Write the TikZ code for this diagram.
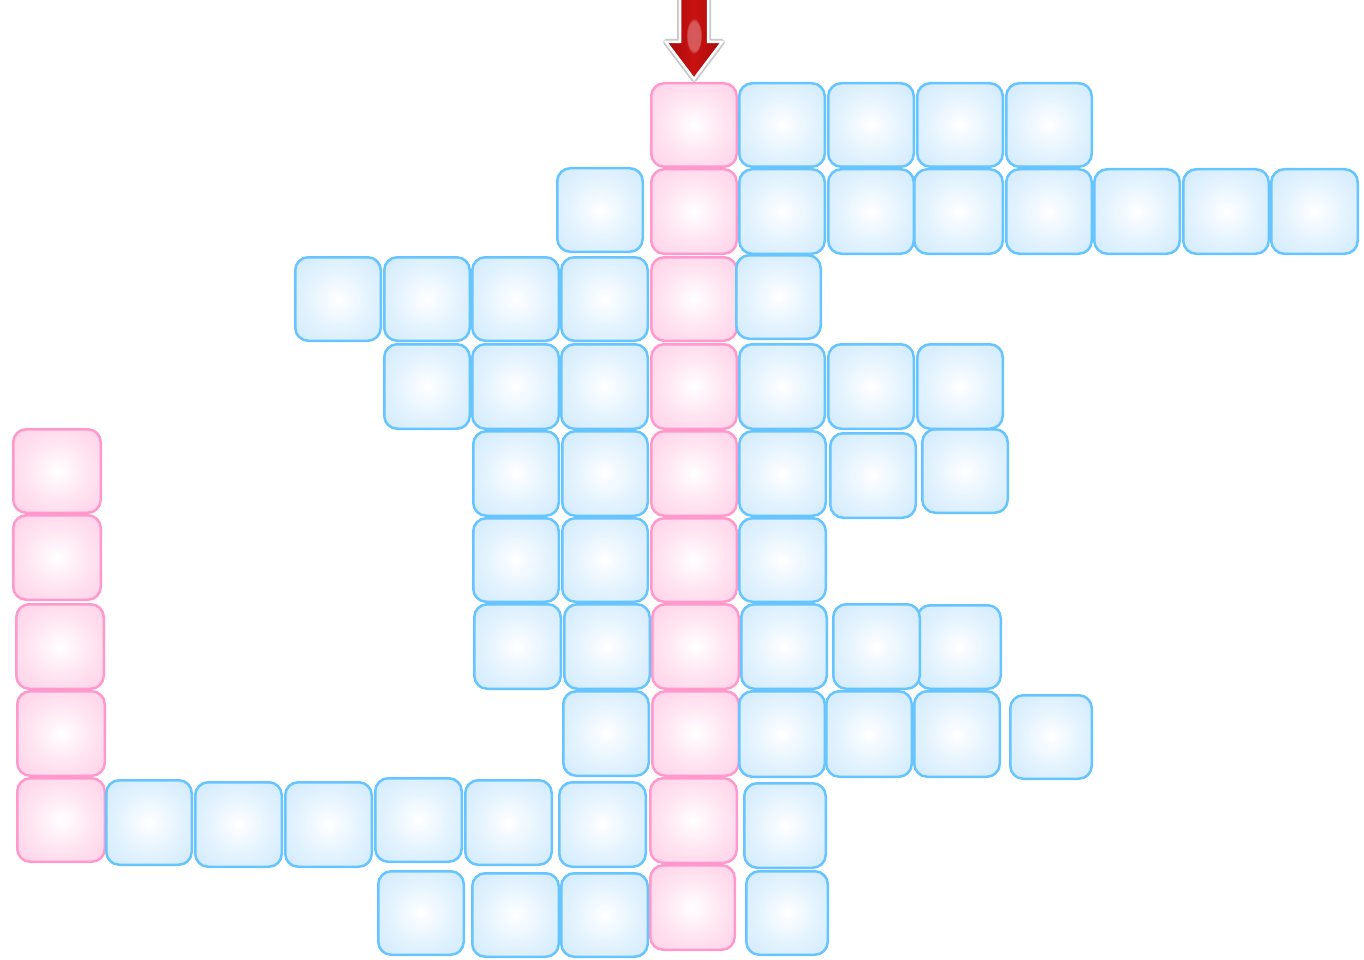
\documentclass[tikz,border=0pt]{standalone}
\usetikzlibrary{shadings,fadings}
\definecolor{bluemid}{HTML}{E4F3FE}
\definecolor{bluefill}{HTML}{D0EAFC}
\definecolor{blueedge}{HTML}{CAE7FB}
\definecolor{blueline}{HTML}{66C4FF}
\definecolor{pinkmid}{HTML}{FFE4F1}
\definecolor{pinkfill}{HTML}{FFD0E7}
\definecolor{pinkedge}{HTML}{FFC9E3}
\definecolor{pinkline}{HTML}{FF99CC}
\definecolor{darkred}{HTML}{8A0000}
\definecolor{midred}{HTML}{C81212}
\pgfdeclareradialshading{cellblue}{\pgfpoint{0bp}{0bp}}{color(0bp)=(white); color(7bp)=(white!60!bluemid); color(18bp)=(bluemid); color(36bp)=(bluefill); color(50bp)=(blueedge)}
\pgfdeclareradialshading{cellpink}{\pgfpoint{0bp}{0bp}}{color(0bp)=(white); color(7bp)=(white!60!pinkmid); color(18bp)=(pinkmid); color(36bp)=(pinkfill); color(50bp)=(pinkedge)}
\pgfdeclarehorizontalshading{arrowred}{100bp}{color(0bp)=(darkred); color(50bp)=(midred); color(100bp)=(darkred)}
\newcommand\cell[6]{\node[#1, minimum width={(#5-#3-2.5)*1pt}, minimum height={(#6-#4-2.5)*1pt}] (#2) at ({(#3+#5)/2},{(#4+#6)/2}) {};}
\tikzset{
  cellbase/.style={rectangle, rounded corners=13pt, line width=2.5pt, inner sep=0pt},
  B/.style={cellbase, draw=blueline, shading=cellblue},
  P/.style={cellbase, draw=pinkline, shading=cellpink},
}
\begin{document}
\begin{tikzpicture}[x=1pt,y=-1pt]
\useasboundingbox (0,0) rectangle (1364,960);
% row 1
\cell{P}{p1}{650}{82}{738}{168}
\cell{B}{a1}{738}{82}{826}{168}
\cell{B}{a2}{827}{82}{915}{168}
\cell{B}{a3}{916}{82}{1004}{168}
\cell{B}{a4}{1005}{82}{1093}{168}
% row 2
\cell{B}{b1}{556}{167}{644}{253}
\cell{P}{p2}{650}{168}{738}{255}
\cell{B}{b2}{738}{168}{826}{255}
\cell{B}{b3}{827}{168}{915}{255}
\cell{B}{b4}{913}{168}{1004}{255}
\cell{B}{b5}{1005}{168}{1093}{255}
\cell{B}{b6}{1093}{168}{1181}{255}
\cell{B}{b7}{1182}{168}{1270}{255}
\cell{B}{b8}{1270}{168}{1359}{255}
% row 3
\cell{B}{c1}{294}{256}{382}{342}
\cell{B}{c2}{383}{256}{471}{342}
\cell{B}{c3}{471}{256}{560}{342}
\cell{B}{c4}{560}{256}{649}{342}
\cell{P}{p3}{650}{256}{738}{342}
\cell{B}{c5}{735}{254}{822}{340}
% row 4
\cell{B}{d1}{383}{343}{471}{430}
\cell{B}{d2}{471}{343}{560}{430}
\cell{B}{d3}{560}{343}{649}{430}
\cell{P}{p4}{650}{343}{738}{430}
\cell{B}{d4}{738}{343}{826}{430}
\cell{B}{d5}{827}{343}{915}{430}
\cell{B}{d6}{916}{343}{1004}{430}
% row 5
\cell{P}{q1}{12}{428}{102}{514}
\cell{B}{e1}{472}{430}{560}{517}
\cell{B}{e2}{561}{430}{649}{517}
\cell{P}{p5}{650}{430}{738}{517}
\cell{B}{e3}{738}{430}{827}{517}
\cell{B}{e4}{829}{432}{917}{519}
\cell{B}{e5}{921}{428}{1009}{514}
% row 6
\cell{P}{q2}{12}{514}{102}{601}
\cell{B}{f1}{472}{517}{560}{603}
\cell{B}{f2}{561}{517}{649}{603}
\cell{P}{p6}{650}{517}{738}{603}
\cell{B}{f3}{738}{517}{827}{603}
% row 7
\cell{P}{q3}{15}{603}{105}{690}
\cell{B}{g1}{473}{603}{562}{690}
\cell{B}{g2}{563}{603}{651}{690}
\cell{P}{p7}{651}{603}{740}{690}
\cell{B}{g3}{740}{603}{828}{690}
\cell{B}{g5}{916}{604}{1002}{690}
\cell{B}{g4}{832}{603}{921}{690}
% row 8
\cell{P}{q4}{16}{690}{106}{777}
\cell{B}{h1}{562}{690}{650}{777}
\cell{P}{p8}{651}{690}{740}{777}
\cell{B}{h2}{738}{690}{826}{778}
\cell{B}{h3}{825}{690}{913}{778}
\cell{B}{h4}{913}{690}{1001}{778}
\cell{B}{h5}{1009}{694}{1093}{780}
% row 9
\cell{P}{q5}{16}{777}{106}{863}
\cell{B}{i1}{105}{779}{193}{866}
\cell{B}{i2}{194}{781}{283}{868}
\cell{B}{i3}{284}{781}{373}{868}
\cell{B}{i4}{374}{777}{463}{863}
\cell{B}{i5}{464}{779}{553}{866}
\cell{B}{i6}{558}{781}{647}{868}
\cell{P}{p9}{649}{777}{738}{864}
\cell{B}{i7}{743}{782}{827}{869}
% row 10
\cell{B}{j1}{377}{870}{465}{956}
\cell{B}{j2}{471}{872}{560}{958}
\cell{B}{j3}{560}{872}{649}{958}
\cell{P}{p10}{649}{864}{736}{951}
\cell{B}{j4}{745}{870}{829}{956}
% arrow
\draw[black!22, line width=6pt, line join=round]
  (680,-6) -- (708,-6) -- (708,42) -- (722,42) -- (694,79) -- (666,42) -- (680,42) -- cycle;
\shadedraw[draw=white, line width=2.5pt, line join=miter, shading=arrowred]
  (680,-6) -- (708,-6) -- (708,42) -- (722,42) -- (694,79) -- (666,42) -- (680,42) -- cycle;
\fill[white, path fading=circle with fuzzy edge 20 percent, opacity=0.3] (694,36) ellipse (8 and 18);
\end{tikzpicture}
\end{document}
